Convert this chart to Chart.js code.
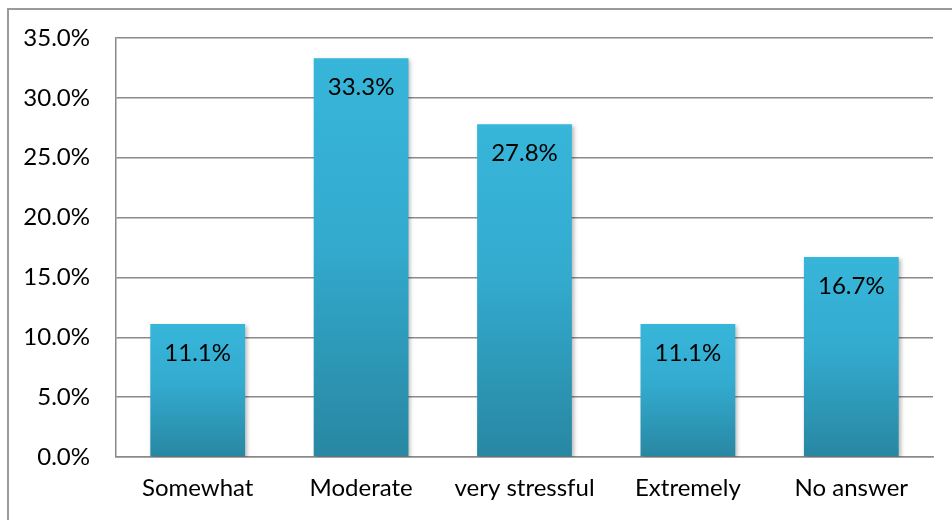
<!DOCTYPE html>
<html>
<head>
<meta charset="utf-8">
<script src="https://cdn.jsdelivr.net/npm/chart.js@4.4.1/dist/chart.umd.min.js"></script>
<style>
  html, body { margin: 0; padding: 0; background: #ffffff; }
  #wrap { width: 952px; height: 520px; position: relative; }
</style>
</head>
<body>
<div id="wrap"><canvas id="c" width="952" height="520"></canvas></div>
<script>
// Survey responses: how stressful respondents found the situation
const categories = ['Somewhat', 'Moderate', 'very stressful', 'Extremely', 'No answer'];
const shares = [11.1, 33.3, 27.8, 11.1, 16.7];
const tickValues = [0, 5, 10, 15, 20, 25, 30, 35];

const FONT = 'Lato, "Open Sans", sans-serif';
const FONT_SIZE = 24;
const GRID = '#8a8a8a';

// Per-bar vertical gradient, lighter at the top
function barFill(ctx) {
  const chart = ctx.chart;
  if (!chart.chartArea || ctx.type !== 'data') return '#33aed2';
  const y = chart.scales.y;
  const top = y.getPixelForValue(ctx.raw);
  const bottom = y.getPixelForValue(0);
  if (!isFinite(top) || bottom - top < 1) return '#33aed2';
  const g = chart.ctx.createLinearGradient(0, top, 0, bottom);
  g.addColorStop(0, '#37b6da');
  g.addColorStop(0.45, '#33abcf');
  g.addColorStop(1, '#2887a2');
  return g;
}

// Soft shadow behind bars
const barShadow = {
  id: 'barShadow',
  beforeDatasetsDraw(chart) {
    const c = chart.ctx;
    c.save();
    c.shadowColor = 'rgba(0,0,0,0.28)';
    c.shadowBlur = 4;
    c.shadowOffsetX = 2;
    c.shadowOffsetY = 2;
  },
  afterDatasetsDraw(chart) {
    chart.ctx.restore();
  }
};

// Value labels inside the top of each bar
const valueLabels = {
  id: 'valueLabels',
  afterDatasetsDraw(chart) {
    const c = chart.ctx;
    const meta = chart.getDatasetMeta(0);
    c.save();
    c.shadowColor = 'transparent';
    c.fillStyle = '#000000';
    c.font = FONT_SIZE + 'px ' + FONT;
    c.textAlign = 'center';
    c.textBaseline = 'middle';
    meta.data.forEach((bar, i) => {
      c.fillText(shares[i].toFixed(1) + '%', bar.x, bar.y + 29);
    });
    c.restore();
  }
};

// Thin frame along the top and left of the picture
const frame = {
  id: 'frame',
  beforeDraw(chart) {
    const c = chart.ctx;
    c.save();
    c.strokeStyle = '#9a9a9a';
    c.lineWidth = 2;
    c.beginPath();
    c.moveTo(8, 520);
    c.lineTo(8, 9);
    c.lineTo(952, 9);
    c.stroke();
    c.restore();
  }
};

new Chart(document.getElementById('c'), {
  type: 'bar',
  data: {
    labels: categories,
    datasets: [{
      data: shares,
      backgroundColor: barFill,
      borderWidth: 0,
      categoryPercentage: 1.0,
      barPercentage: 0.58
    }]
  },
  options: {
    responsive: false,
    animation: false,
    events: [],
    layout: { padding: { top: 38, right: 19, left: 8, bottom: 0 } },
    plugins: {
      legend: { display: false },
      tooltip: { enabled: false }
    },
    scales: {
      x: {
        grid: { display: false, drawTicks: false },
        border: { display: true, color: GRID, width: 1.5 },
        ticks: { color: '#000', font: { family: FONT, size: FONT_SIZE }, padding: 17, maxRotation: 0, autoSkip: false },
        afterFit(s) { s.height = 63; s.paddingLeft = 0; s.paddingRight = 0; }
      },
      y: {
        min: 0,
        max: 35,
        afterBuildTicks(s) { s.ticks = tickValues.map(v => ({ value: v })); },
        grid: { color: GRID, lineWidth: 1.5, drawTicks: false },
        border: { display: true, color: GRID, width: 1.5 },
        ticks: {
          color: '#000',
          font: { family: FONT, size: FONT_SIZE },
          padding: 26,
          callback: v => Number(v).toFixed(1) + '%'
        },
        afterFit(s) { s.width = 108; s.paddingTop = 0; s.paddingBottom = 0; }
      }
    }
  },
  plugins: [frame, barShadow, valueLabels]
});
</script>
</body>
</html>
